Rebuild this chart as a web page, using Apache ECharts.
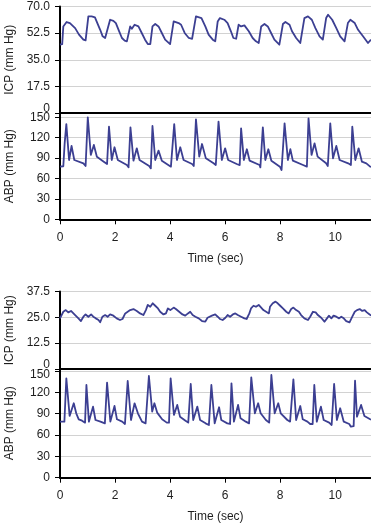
<!DOCTYPE html>
<html><head><meta charset="utf-8">
<script src="https://cdn.jsdelivr.net/npm/echarts@6/dist/echarts.min.js"></script>
<style>html,body{margin:0;padding:0;background:#fff}#c{width:371px;height:523px}</style>
</head><body><div id="c"></div>
<script>
const timeTicks = [0, 2, 4, 6, 8, 10];
const icpTopTicks = [0, 17.5, 35, 52.5, 70];
const icpBottomTicks = [0, 12.5, 25, 37.5];
const abpTicks = [0, 30, 60, 90, 120, 150];

// Top recording: ICP (mm Hg) vs time (s)
const icpTop = [[0,44.9],[0.08,45.3],[0.12,56.9],[0.24,59.8],[0.36,59.1],[0.42,60.2],[0.55,55.8],[0.69,51.5],[0.85,48.2],[0.93,47.7],
[1.03,63.5],[1.06,64.6],[1.15,63.5],[1.27,62.9],[1.33,60.2],[1.46,54.7],[1.55,50.4],[1.64,49.3],[1.71,48.8],
[1.82,61.3],[1.94,60.6],[2.03,59.1],[2.15,53.7],[2.25,49.3],[2.35,47.5],[2.43,47.1],
[2.49,46.6],[2.55,56.9],[2.61,55.4],[2.71,58.0],[2.85,56.9],[2.97,52.6],[3.09,48.2],[3.19,45.3],[3.24,44.9],
[3.28,45.3],[3.36,56.9],[3.46,58.5],[3.58,56.9],[3.70,52.6],[3.82,48.2],[4.00,45.3],
[4.04,45.5],[4.13,60.2],[4.19,61.3],[4.31,59.1],[4.40,58.0],[4.53,52.6],[4.68,49.3],[4.80,48.8],
[4.86,48.8],[4.94,63.5],[5.01,64.6],[5.14,62.4],[5.28,56.9],[5.40,51.5],[5.55,48.2],[5.64,47.1],
[5.73,60.2],[5.81,62.4],[5.97,61.3],[6.09,59.1],[6.21,53.7],[6.30,49.3],[6.37,48.8],
[6.40,48.8],[6.49,58.0],[6.58,56.9],[6.70,57.6],[6.86,53.7],[7.00,49.3],[7.12,47.1],[7.18,46.0],
[7.22,46.0],[7.31,56.9],[7.43,58.5],[7.55,56.9],[7.67,52.6],[7.79,48.2],[7.97,44.9],
[8.01,44.9],[8.10,58.5],[8.19,59.8],[8.34,58.0],[8.43,53.7],[8.58,49.3],[8.73,46.0],[8.76,46.6],
[8.80,46.6],[8.88,62.4],[9.01,63.5],[9.15,61.3],[9.28,55.8],[9.43,50.4],[9.55,48.2],
[9.59,48.2],[9.67,62.4],[9.74,64.6],[9.89,61.3],[10.04,55.8],[10.18,50.4],[10.34,47.1],
[10.38,47.1],[10.46,59.1],[10.55,61.3],[10.71,59.1],[10.83,54.7],[11.01,50.4],[11.19,46.0],[11.30,48.2]];

// Top recording: ABP (mm Hg) vs time (s)
const abpTop = [[0,77.4],[0.12,78],[0.17,112],[0.23,140],[0.33,87.2],[0.42,107.8],[0.52,87.2],[0.85,82.3],[0.93,78.3],
[0.97,78.3],[1.01,150],[1.12,94.6],[1.23,109.3],[1.34,92.1],[1.59,84.7],[1.71,81.3],
[1.74,81],[1.78,136.2],[1.88,87.2],[1.98,105.9],[2.10,87.2],[2.43,79.8],[2.49,76.4],
[2.52,76.4],[2.56,135.2],[2.67,86.2],[2.79,104.4],[2.89,87.2],[3.24,78.3],[3.30,74.9],
[3.32,75],[3.36,137.2],[3.46,87.2],[3.58,101],[3.70,86.2],[4.03,77.4],[4.09,76.4],
[4.11,76.4],[4.15,140],[4.25,87.2],[4.37,105.9],[4.49,87.2],[4.80,81.3],[4.86,78.3],
[4.89,78.3],[4.94,147],[5.06,92.1],[5.16,110.7],[5.30,89.6],[5.58,82.3],[5.66,79.8],
[5.71,79.8],[5.76,143.6],[5.88,87.2],[6.00,104.4],[6.11,87.2],[6.42,81.3],[6.48,79.8],
[6.53,79.8],[6.58,133.8],[6.68,87.2],[6.79,103],[6.89,86.2],[7.25,79.8],[7.28,76.4],
[7.32,76.4],[7.37,135.2],[7.46,87.2],[7.57,103],[7.68,86.2],[7.99,77.4],[8.05,72.5],
[8.11,72.5],[8.16,141],[8.28,87.2],[8.37,103],[8.46,86.2],[8.83,79.8],[8.90,77.4],
[8.97,77.4],[9.03,148.5],[9.14,94.6],[9.25,111.7],[9.36,92.1],[9.67,82.3],[9.73,78.3],
[9.77,78.3],[9.82,141],[9.92,89.6],[10.04,107.8],[10.16,87.2],[10.47,82.3],[10.53,79.8],
[10.57,79.8],[10.62,136.2],[10.73,87.2],[10.85,104.4],[10.97,84.7],[11.13,82.3],[11.27,77.4],[11.30,77]];

// Bottom recording: ICP (mm Hg) vs time (s)
const icpBottom = [[0,24.5],[0.12,27.7],[0.21,28.5],[0.30,27.4],[0.40,28.1],[0.55,26.1],[0.67,24.5],[0.76,23.2],[0.85,25.3],[0.93,26.4],
[1.03,25.3],[1.13,26.4],[1.21,25.3],[1.30,24.5],[1.40,23.7],[1.46,22.6],[1.54,25.3],[1.64,26.1],[1.73,25.3],[1.82,26.4],
[1.94,25.8],[2.06,24.5],[2.18,23.7],[2.27,24.2],[2.37,26.9],[2.46,27.7],[2.55,28.5],[2.67,29.0],[2.79,28.1],[2.91,26.9],
[3.03,26.1],[3.12,28.5],[3.19,31.0],[3.28,30.1],[3.37,31.8],[3.46,30.6],[3.56,29.3],[3.64,27.7],[3.76,26.4],[3.85,26.9],
[3.92,29.3],[4.01,28.5],[4.13,29.7],[4.21,29.0],[4.33,27.7],[4.45,26.4],[4.55,25.8],[4.65,26.9],[4.73,27.7],[4.82,26.1],
[4.92,25.3],[5.04,24.5],[5.16,23.2],[5.28,22.9],[5.36,24.8],[5.43,24.2],[5.52,25.8],[5.64,26.4],[5.73,25.3],[5.81,24.2],
[5.91,23.7],[6.01,24.8],[6.09,26.1],[6.18,25.3],[6.28,26.4],[6.37,26.9],[6.46,26.1],[6.58,25.3],[6.70,24.5],[6.78,24.2],
[6.88,26.9],[6.94,29.3],[7.03,30.6],[7.12,30.1],[7.22,31.0],[7.31,29.7],[7.39,28.5],[7.49,27.7],[7.59,26.9],[7.63,30.1],
[7.73,31.8],[7.83,32.6],[7.91,31.8],[8.00,30.6],[8.10,29.3],[8.22,27.7],[8.31,26.9],[8.40,29.0],[8.48,29.7],[8.58,28.5],
[8.68,27.7],[8.76,26.1],[8.88,24.5],[9.01,23.7],[9.09,25.3],[9.19,27.7],[9.29,27.4],[9.37,26.1],[9.49,24.8],[9.61,22.9],
[9.70,24.5],[9.77,25.8],[9.86,24.5],[9.94,25.8],[10.04,25.3],[10.14,24.5],[10.22,25.3],[10.31,24.5],[10.40,23.2],[10.52,22.6],
[10.62,25.3],[10.71,27.7],[10.79,28.5],[10.89,29.0],[10.98,28.1],[11.07,28.5],[11.15,27.4],[11.25,26.4],[11.30,25.8]];

// Bottom recording: ABP (mm Hg) vs time (s)
const abpBottom = [[0,78.8],[0.16,78.8],[0.23,139.7],[0.35,86.8],[0.50,104.6],[0.59,90.5],[0.68,82.1],[0.80,80.2],[0.91,77.4],
[0.96,130.3],[1.05,78.8],[1.20,99.9],[1.29,81.1],[1.47,78.8],[1.63,76.4],
[1.67,76.4],[1.71,133.6],[1.83,78.8],[1.98,100.8],[2.07,82.1],[2.26,78.8],[2.36,75.5],
[2.41,75.5],[2.46,136.0],[2.58,81.1],[2.71,104.6],[2.83,90.5],[2.98,78.8],[3.11,76.4],
[3.18,76.4],[3.23,143.0],[3.35,92.9],[3.43,104.6],[3.53,91.5],[3.71,82.1],[3.88,77.4],
[3.96,77.4],[4.02,139.7],[4.14,88.2],[4.26,102.3],[4.36,85.8],[4.56,80.2],[4.66,77.4],
[4.70,77.4],[4.75,131.7],[4.84,81.1],[4.99,99.9],[5.09,81.1],[5.29,76.4],[5.41,74.1],
[5.46,74.1],[5.50,130.3],[5.62,76.4],[5.78,99.0],[5.86,81.1],[6.08,76.4],[6.18,75.5],
[6.23,132.7],[6.32,78.8],[6.47,102.3],[6.56,83.5],[6.75,78.8],[6.87,76.4],
[6.91,76.4],[6.95,141.1],[7.08,90.5],[7.20,104.6],[7.29,90.5],[7.48,81.1],[7.60,77.4],
[7.64,77.4],[7.68,144.4],[7.80,90.5],[7.93,104.6],[8.02,90.5],[8.26,81.1],[8.36,78.8],
[8.43,78.8],[8.48,138.3],[8.58,81.1],[8.73,100.8],[8.82,82.1],[8.99,78.8],[9.09,75.5],
[9.18,75.5],[9.24,130.3],[9.33,78.8],[9.48,99.9],[9.58,81.1],[9.78,77.4],[9.87,74.1],
[9.92,74.1],[9.96,131.7],[10.06,81.1],[10.18,97.6],[10.31,78.8],[10.51,75.5],[10.57,71.7],
[10.67,72.5],[10.72,136.4],[10.79,85.8],[10.94,102.3],[11.06,86.8],[11.27,82.1],[11.30,81.5]];

const FONT = '"Liberation Sans", Arial, Helvetica, sans-serif';
const TXT = '#1e1e1e';
const LINE = '#3c3f92';
const T_MAX = 11.3;

function isTick(v, ticks) { return ticks.find(t => Math.abs(t - v) < 1e-6); }

function yAx(gridIndex, max, interval, ticks, name, decimals, shift) {
  return {
    type: 'value', gridIndex, min: 0, max, interval,
    name, nameLocation: 'middle', nameGap: 44,
    nameTextStyle: { fontFamily: FONT, fontSize: 12, color: TXT },
    axisLine: { show: true, lineStyle: { color: '#000', width: 2 } },
    axisTick: { show: true, length: 5, lineStyle: { color: '#000', width: 1 } },
    axisLabel: {
      margin: 10, fontFamily: FONT, fontSize: 12, color: TXT,
      showMaxLabel: true,
      formatter: function (v) {
        const t = isTick(v, ticks);
        if (t === undefined) return '';
        const s = (t === 0 || !decimals) ? String(t) : t.toFixed(1);
        if (shift && shift[t] === 'up') return '{up|' + s + '}';
        if (shift && shift[t] === 'down') return '{dn|' + s + '}';
        return s;
      },
      rich: {
        up: { padding: [0, 0, 8, 0], fontFamily: FONT, fontSize: 12, color: TXT },
        dn: { padding: [8, 0, 0, 0], fontFamily: FONT, fontSize: 12, color: TXT }
      }
    },
    splitLine: { show: true, lineStyle: { color: '#d2d2d2', width: 1 } }
  };
}

function xAx(gridIndex, labeled) {
  return {
    type: 'value', gridIndex, min: 0, max: T_MAX, interval: 2,
    name: labeled ? 'Time (sec)' : '', nameLocation: 'middle', nameGap: 33,
    nameTextStyle: { fontFamily: FONT, fontSize: 12, color: TXT },
    axisLine: { show: true, onZero: false, lineStyle: { color: '#000', width: 2 } },
    axisTick: { show: labeled, length: 5, lineStyle: { color: '#000', width: 1 } },
    axisLabel: {
      show: labeled, margin: 12, fontFamily: FONT, fontSize: 12, color: TXT,
      formatter: function (v) { const t = isTick(v, timeTicks); return t === undefined ? '' : String(t); }
    },
    splitLine: { show: false }
  };
}

function line(idx, data) {
  return {
    type: 'line', xAxisIndex: idx, yAxisIndex: idx, data,
    showSymbol: false, symbol: 'none', smooth: false,
    lineStyle: { color: LINE, width: 1.8, join: 'round' }, animation: false
  };
}

const chart = echarts.init(document.getElementById('c'), null, { renderer: 'canvas' });
const gridBase = { left: 60, right: 0, containLabel: false, outerBoundsMode: 'none' };
chart.setOption({
  backgroundColor: '#fff',
  animation: false,
  grid: [
    Object.assign({}, gridBase, { top: 6.5, height: 106.5 }),
    Object.assign({}, gridBase, { top: 113, height: 106.3 }),
    Object.assign({}, gridBase, { top: 291.5, height: 77.5 }),
    Object.assign({}, gridBase, { top: 369, height: 108.7 })
  ],
  xAxis: [xAx(0, false), xAx(1, true), xAx(2, false), xAx(3, true)],
  yAxis: [
    yAx(0, 70, 17.5, icpTopTicks, 'ICP (mm Hg)', true, { 0: 'up' }),
    yAx(1, 156.3, 30, abpTicks, 'ABP (mm Hg)', false, null),
    yAx(2, 37.5, 12.5, icpBottomTicks, 'ICP (mm Hg)', true, { 0: 'up' }),
    yAx(3, 152.8, 30, abpTicks, 'ABP (mm Hg)', false, { 150: 'down' })
  ],
  series: [line(0, icpTop), line(1, abpTop), line(2, icpBottom), line(3, abpBottom)]
});
</script>
</body></html>
